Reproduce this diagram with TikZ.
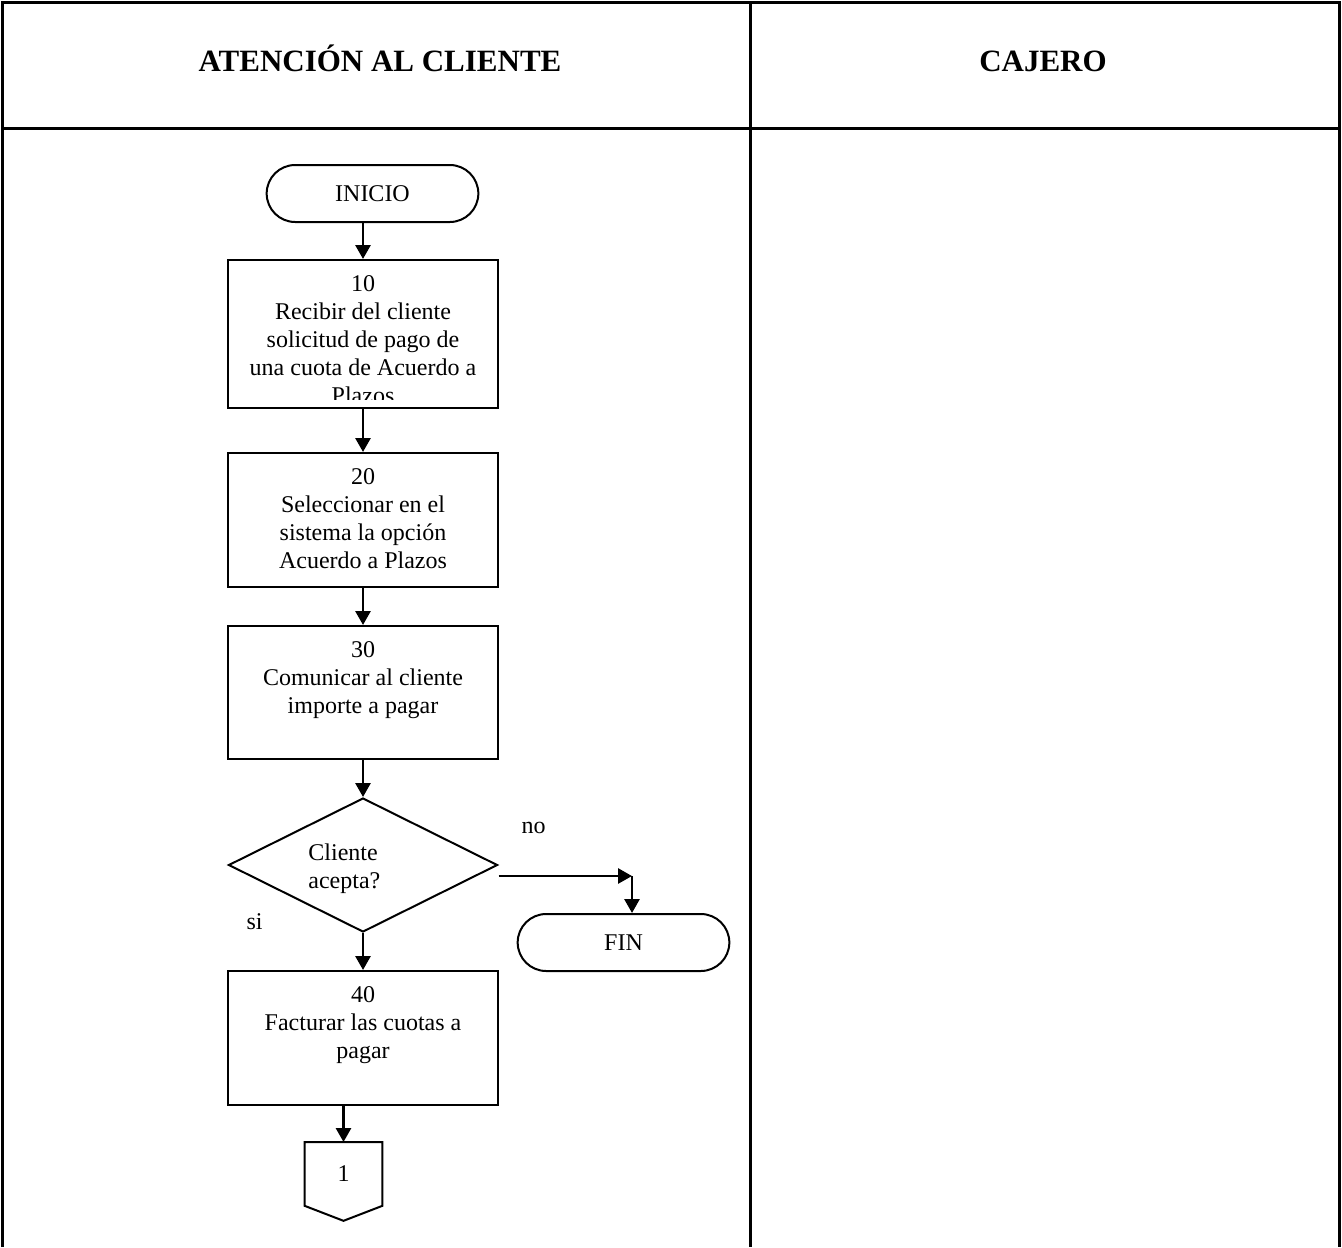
\documentclass[tikz,border=0pt]{standalone}
\usepackage{fontspec}
\setmainfont{Liberation Serif}
\usetikzlibrary{arrows.meta,positioning,shapes.geometric,shapes.misc}

\begin{document}
\begin{tikzpicture}[x=0.5pt,y=-0.5pt,>={Triangle[length=7pt,width=7.5pt]},
    node distance=18.5pt,font=\fontsize{12}{14}\selectfont,
    proc/.style={draw,line width=1pt,minimum width=135pt,minimum height=67pt,inner sep=0pt},
    term/.style={draw,line width=1pt,rounded rectangle,minimum width=112.5pt,minimum height=28.5pt},
    decision/.style={draw,line width=1pt,diamond,aspect=2,minimum width=134.5pt,minimum height=67pt,inner sep=0pt},
    txt/.style={anchor=north,align=center,inner sep=0pt,yshift=-8pt},
    head/.style={anchor=base,font=\fontsize{15.5}{18}\selectfont\bfseries},
    flow/.style={->,line width=1.4pt},
    lane/.style={line width=1.5pt}]
    \useasboundingbox (0,0) rectangle (1342,1247);

    % carriles
    \draw[lane] (2,1247) -- (2,3) -- (1339,3) -- (1339,1247);
    \draw[lane] (750,3) -- (750,1247);
    \draw[lane] (2,128) -- (1339,128);
    \node[head] (h1) at (380,72) {ATENCIÓN AL CLIENTE};
    \node[head] (h2) at (1043,72) {CAJERO};

    % nodos
    \node[term] (ini) at (372.5,193.5) {INICIO};
    \node[proc,minimum height=74pt,below=18pt of ini,xshift=-4.75pt] (p10) {};
    \node[proc,below=21.5pt of p10] (p20) {};
    \node[proc,minimum height=66.5pt,below=of p20] (p30) {};
    \node[decision,below=of p30] (q1) {};
    \node[proc,below=of q1] (p40) {};
    \node[minimum width=38.5pt,minimum height=31.5pt,inner sep=0pt,below=18pt of p40,xshift=-9.75pt] (c1) {1};
    \draw[line width=1pt] (c1.south west) -- (c1.north west) -- (c1.north east)
        -- (c1.south east) -- ([yshift=-7.5pt]c1.south) -- cycle;
    \node[term] (fin) at (623.5,942.5) {FIN};
    \coordinate (k1) at (632,876);

    % textos
    \begin{scope}
      \clip (p10.north west) rectangle ([yshift=5pt]p10.south east);
      \node[txt] (t10) at (p10.north) {10\\Recibir del cliente\\solicitud de pago de\\una cuota de Acuerdo a\\Plazos};
    \end{scope}
    \node[txt] (t20) at (p20.north) {20\\Seleccionar en el\\sistema la opción\\Acuerdo a Plazos};
    \node[txt] (t30) at (p30.north) {30\\Comunicar al cliente\\importe a pagar};
    \node[txt] (t40) at (p40.north) {40\\Facturar las cuotas a\\pagar};
    \node[align=left,anchor=west,inner sep=0pt] (tq1) at ([xshift=-27.5pt,yshift=-2pt]q1.center) {Cliente\\acepta?};
    \node (no) at ([xshift=17.5pt,yshift=18.5pt]q1.east) {no};
    \node (si) at ([xshift=13.5pt,yshift=-28.5pt]q1.west) {si};

    % flechas
    \draw[flow] (ini.south -| p10.north) -- (p10.north);
    \draw[flow] (p10.south) -- (p20.north);
    \draw[flow] (p20.south) -- (p30.north);
    \draw[flow] (p30.south) -- (q1.north);
    \draw[flow] (q1.south) -- (p40.north);
    \draw[flow] (p40.south -| c1.north) -- (c1.north);
    \draw[flow] (q1.east |- k1) -- (k1);
    \draw[flow] (k1) -- (k1 |- fin.north);
\end{tikzpicture}
\end{document}
